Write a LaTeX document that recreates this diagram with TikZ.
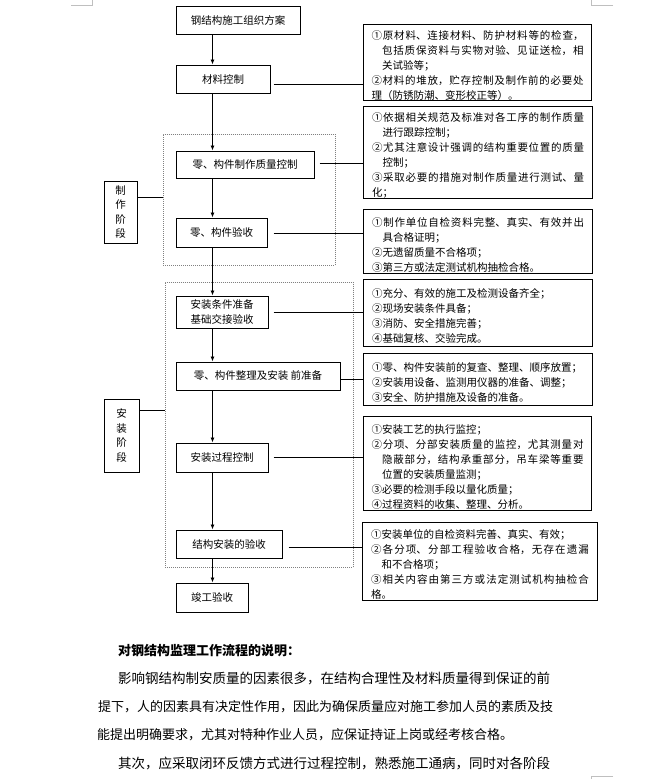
\documentclass[tikz,border=0pt]{standalone}
\usepackage{fontspec}
\setmainfont{Noto Sans CJK SC}
\usetikzlibrary{arrows.meta}
\XeTeXlinebreaklocale "zh"
\XeTeXlinebreakskip=0pt plus 2pt minus 0.3pt
\newlength\circw
\newcommand\nitem{\par\settowidth\circw{①}\hangindent=\circw\hangafter=1\relax}
\begin{document}
\begin{tikzpicture}[x=1pt,y=-1pt,
  flowbox/.style={draw, line width=1pt, inner sep=0pt, align=center, font=\fontsize{10.5pt}{15pt}\selectfont},
  stagebox/.style={draw, line width=1pt, inner sep=0pt, align=center, font=\fontsize{10.5pt}{14.5pt}\selectfont},
  notebox/.style={draw, line width=1pt, inner sep=0pt, anchor=north west, text width=212pt, align=justify, font=\fontsize{10.5pt}{15pt}\selectfont},
  phase/.style={draw=gray, dash pattern=on 1pt off 1pt, line width=0.6pt, inner sep=0pt, anchor=north west},
  arr/.style={-{Latex[length=5pt,width=4pt]}, line width=0.8pt},
  link/.style={line width=0.8pt},
  cornermark/.style={draw=black!25, line width=0.6pt},
  bodytext/.style={anchor=west, inner sep=0pt}
]
\useasboundingbox (0,0) rectangle (664,779);
\fill[white] (0,0) rectangle (664,779);
% page corner marks
\draw[cornermark] (71,5) -- (92,5) -- (92,0);
\draw[cornermark] (613,5) -- (591,5) -- (591,0);
\draw[cornermark] (613,776) -- (591,776) -- (591,779);

% phase frames
\node[phase, minimum width=172pt, minimum height=131pt] (d1) at (163,134) {};
\node[phase, minimum width=188pt, minimum height=285pt] (d2) at (165,282) {};

% flow boxes
\node[flowbox, minimum width=124pt, minimum height=28pt] (b1) at (238,20) {钢结构施工组织方案};
\node[flowbox, minimum width=94pt, minimum height=28pt] (b2) at (223,79) {材料控制};
\node[flowbox, minimum width=138pt, minimum height=27pt] (b3) at (245,164.5) {零、构件制作质量控制};
\node[flowbox, minimum width=91pt, minimum height=29pt] (b4) at (221.5,232.5) {零、构件验收};
\node[flowbox, minimum width=92pt, minimum height=32pt] (b5) at (222,312) {安装条件准备\\基础交接验收};
\node[flowbox, minimum width=164pt, minimum height=28pt] (b6) at (258,376) {零、构件整理及安装 前准备};
\node[flowbox, minimum width=92pt, minimum height=29pt] (b7) at (222,457.5) {安装过程控制};
\node[flowbox, minimum width=106pt, minimum height=28pt] (b8) at (229,544) {结构安装的验收};
\node[flowbox, minimum width=72pt, minimum height=29pt] (b9) at (212,597.5) {竣工验收};

% stage boxes
\node[stagebox, minimum width=33pt, minimum height=62pt] (s1) at (120.5,212) {制\\作\\阶\\段};
\node[stagebox, minimum width=35pt, minimum height=73pt] (s2) at (121.5,435.5) {安\\装\\阶\\段};

% notes
\node[notebox, minimum width=228pt, minimum height=75pt] (n1) at (363,24) {\parindent=0pt%
\nitem ①原材料、连接材料、防护材料等的检查，\linebreak 包括质保资料与实物对验、见证送检，相\linebreak 关试验等；%
\nitem ②材料的堆放，贮存控制及制作前的必要处\linebreak 理（防锈防潮、变形校正等）。};
\node[notebox, minimum width=229pt, minimum height=91pt] (n2) at (363,106) {\parindent=0pt%
\nitem ①依据相关规范及标准对各工序的制作质量\linebreak 进行跟踪控制；%
\nitem ②尤其注意设计强调的结构重要位置的质量\linebreak 控制；%
\nitem ③采取必要的措施对制作质量进行测试、量\linebreak 化；};
\node[notebox, minimum width=229pt, minimum height=64pt] (n3) at (363,209) {\parindent=0pt%
\nitem ①制作单位自检资料完整、真实、有效并出\linebreak 具合格证明；%
\nitem ②无遗留质量不合格项；%
\nitem ③第三方或法定测试机构抽检合格。};
\node[notebox, minimum width=229pt, minimum height=67pt] (n4) at (363,279) {\parindent=0pt%
\nitem ①充分、有效的施工及检测设备齐全；%
\nitem ②现场安装条件具备；%
\nitem ③消防、安全措施完善；%
\nitem ④基础复核、交验完成。};
\node[notebox, minimum width=229pt, minimum height=52pt] (n5) at (363,353) {\parindent=0pt%
\nitem ①零、构件安装前的复查、整理、顺序放置；%
\nitem ②安装用设备、监测用仪器的准备、调整；%
\nitem ③安全、防护措施及设备的准备。};
\node[notebox, minimum width=228pt, minimum height=94pt] (n6) at (363,416) {\parindent=0pt%
\nitem ①安装工艺的执行监控；%
\nitem ②分项、分部安装质量的监控，尤其测量对\linebreak 隐蔽部分，结构承重部分，吊车梁等重要\linebreak 位置的安装质量监测；%
\nitem ③必要的检测手段以量化质量；%
\nitem ④过程资料的收集、整理、分析。};
\node[notebox, text width=218pt, minimum width=235pt, minimum height=78pt] (n7) at (362,522) {\parindent=0pt%
\nitem ①安装单位的自检资料完善、真实、有效；%
\nitem ②各分项、分部工程验收合格，无存在遗漏\linebreak 和不合格项；%
\nitem ③相关内容由第三方或法定测试机构抽检合\linebreak 格。};

% arrows down the main flow
\coordinate (ax) at (212.5,0);
\draw[arr] (b1.south -| ax) -- (b2.north -| ax);
\draw[arr] (b2.south -| ax) -- (b3.north -| ax);
\draw[arr] (b3.south -| ax) -- (b4.north -| ax);
\draw[arr] (b4.south -| ax) -- (b5.north -| ax);
\draw[arr] (b5.south -| ax) -- (b6.north -| ax);
\draw[arr] (b6.south -| ax) -- (b7.north -| ax);
\draw[arr] (b7.south -| ax) -- (b8.north -| ax);
\draw[arr] (b8.south -| ax) -- (b9.north -| ax);

% links to notes
\draw[link, shorten <=3pt] (b2.east |- 0,84) -- (n1.west |- 0,84);
\draw[link, shorten <=5pt] (b3.east |- 0,163) -- (n2.west |- 0,163);
\draw[link, shorten <=6pt] (b4.east |- 0,233) -- (n3.west |- 0,233);
\draw[link, shorten <=5pt] (b5.east |- 0,312) -- (n4.west |- 0,312);
\draw[link] (b6.east |- 0,379) -- (n5.west |- 0,379);
\draw[link, shorten <=5pt] (b7.east |- 0,457) -- (n6.west |- 0,457);
\draw[link, shorten <=6pt] (b8.east |- 0,547) -- (n7.west |- 0,547);

% stage links
\draw[link] (s1.east |- 0,197) -- (d1.west |- 0,197);
\draw[link] (s2.east |- 0,410) -- (d2.west |- 0,410);

% explanation text
\node[bodytext, font=\fontsize{13pt}{16pt}\selectfont\bfseries] (t0) at (118,651) {对钢结构监理工作流程的说明：};
\node[bodytext, font=\fontsize{13.5pt}{16pt}\selectfont] (p1) at (118,679) {影响钢结构制安质量的因素很多，在结构合理性及材料质量得到保证的前};
\node[bodytext, font=\fontsize{13pt}{16pt}\selectfont] (p2) at (98,707) {提下，人的因素具有决定性作用，因此为确保质量应对施工参加人员的素质及技};
\node[bodytext, font=\fontsize{13pt}{16pt}\selectfont] (p3) at (97,735) {能提出明确要求，尤其对特种作业人员，应保证持证上岗或经考核合格。};
\node[bodytext, font=\fontsize{13.5pt}{16pt}\selectfont] (p4) at (118,763) {其次，应采取闭环反馈方式进行过程控制，熟悉施工通病，同时对各阶段};
\end{tikzpicture}
\end{document}
